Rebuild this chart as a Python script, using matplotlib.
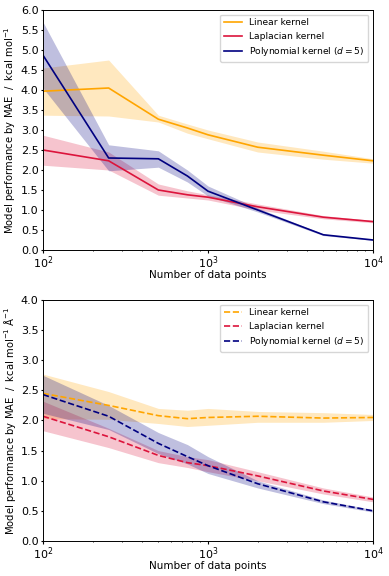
import matplotlib
matplotlib.use('Agg')
import matplotlib.pyplot as plt

# Data
n_points = [100, 250, 500, 750, 1000, 2000, 5000, 10000]

# energies (top panel)
lin_e = [3.97, 4.05, 3.27, 3.05, 2.88, 2.57, 2.37, 2.23]
lin_e_lo = [3.37, 3.35, 3.20, 2.92, 2.78, 2.45, 2.27, 2.17]
lin_e_hi = [4.55, 4.75, 3.37, 3.15, 3.00, 2.70, 2.47, 2.28]

lap_e = [2.50, 2.23, 1.50, 1.38, 1.32, 1.08, 0.82, 0.71]
lap_e_lo = [2.12, 2.00, 1.37, 1.30, 1.25, 1.00, 0.78, 0.68]
lap_e_hi = [2.87, 2.45, 1.65, 1.48, 1.38, 1.15, 0.86, 0.74]

pol_e = [4.87, 2.30, 2.28, 1.85, 1.47, 1.00, 0.38, 0.25]
pol_e_lo = [4.05, 1.98, 2.07, 1.70, 1.35, 0.95, 0.36, 0.24]
pol_e_hi = [5.70, 2.63, 2.48, 2.00, 1.60, 1.05, 0.40, 0.26]

# forces (bottom panel)
lin_f = [2.45, 2.25, 2.08, 2.03, 2.05, 2.07, 2.04, 2.05]
lin_f_lo = [2.03, 2.02, 1.95, 1.90, 1.92, 1.97, 1.97, 2.00]
lin_f_hi = [2.77, 2.48, 2.20, 2.17, 2.20, 2.15, 2.13, 2.10]

lap_f = [2.07, 1.73, 1.42, 1.30, 1.25, 1.08, 0.83, 0.69]
lap_f_lo = [1.83, 1.55, 1.30, 1.22, 1.15, 1.00, 0.78, 0.65]
lap_f_hi = [2.32, 1.87, 1.50, 1.40, 1.35, 1.15, 0.88, 0.73]

pol_f = [2.43, 2.07, 1.62, 1.40, 1.25, 0.95, 0.65, 0.50]
pol_f_lo = [2.12, 1.85, 1.45, 1.28, 1.12, 0.88, 0.62, 0.48]
pol_f_hi = [2.75, 2.25, 1.80, 1.60, 1.40, 1.00, 0.68, 0.52]

labels = ['Linear kernel', 'Laplacian kernel', r'Polynomial kernel ($d = 5$)']
colors = ['orange', 'crimson', 'navy']

plt.rcParams['font.size'] = 7.5
plt.rcParams['xtick.labelsize'] = 8
plt.rcParams['ytick.labelsize'] = 8
plt.rcParams['xtick.major.pad'] = 1.5
plt.rcParams['ytick.major.pad'] = 1.5
plt.rcParams['xtick.major.size'] = 1.8
plt.rcParams['ytick.major.size'] = 1.8
plt.rcParams['xtick.minor.size'] = 1.0
plt.rcParams['axes.linewidth'] = 0.7

fig = plt.figure(figsize=(3.89, 5.76), dpi=100)
ax1 = fig.add_axes([0.1105, 0.566, 0.8485, 0.4166])
ax2 = fig.add_axes([0.1105, 0.0608, 0.8485, 0.4184])

top = [(lin_e, lin_e_lo, lin_e_hi), (lap_e, lap_e_lo, lap_e_hi), (pol_e, pol_e_lo, pol_e_hi)]
bot = [(lin_f, lin_f_lo, lin_f_hi), (lap_f, lap_f_lo, lap_f_hi), (pol_f, pol_f_lo, pol_f_hi)]

for (m, lo, hi), c, lab in zip(top, colors, labels):
    ax1.fill_between(n_points, lo, hi, color=c, alpha=0.25, linewidth=0)
    ax1.plot(n_points, m, color=c, linewidth=1.2, label=lab)

for (m, lo, hi), c, lab in zip(bot, colors, labels):
    ax2.fill_between(n_points, lo, hi, color=c, alpha=0.25, linewidth=0)
    ax2.plot(n_points, m, color=c, linewidth=1.2, linestyle='--', label=lab)

ax1.set_ylim(0, 6)
ax1.set_yticks([0, 0.5, 1, 1.5, 2, 2.5, 3, 3.5, 4, 4.5, 5, 5.5, 6])
ax1.set_ylabel(r'Model performance by MAE  /  kcal mol$^{-1}$', fontsize=7.2)
ax2.set_ylim(0, 4)
ax2.set_yticks([0, 0.5, 1, 1.5, 2, 2.5, 3, 3.5, 4])
ax2.set_ylabel(r'Model performance by MAE  /  kcal mol$^{-1}$ Å$^{-1}$', fontsize=7.2)

for ax in (ax1, ax2):
    ax.set_xscale('log')
    ax.set_xlim(100, 10000)
    ax.set_xlabel('Number of data points')
    ax.xaxis.set_label_coords(0.5, -0.082)
    ax.yaxis.set_label_coords(-0.076, 0.5)
    ax.legend(loc='upper right', fontsize=6.6)

fig.savefig('out.png', dpi=100)
